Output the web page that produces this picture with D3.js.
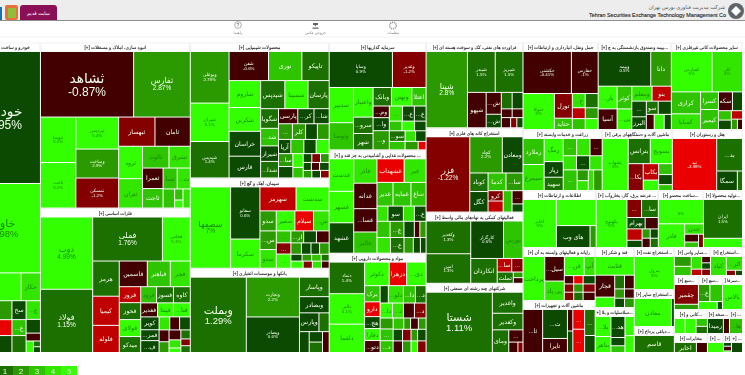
<!DOCTYPE html>
<html>
<head>
<meta charset="utf-8">
<script src="https://cdn.jsdelivr.net/npm/d3@7"></script>
<style>
  html, body { margin: 0; background: #fff; overflow: hidden; }
  svg { display: block; filter: blur(0.35px); }
  text { font-family: "Liberation Sans", "DejaVu Sans", sans-serif; }
</style>
</head>
<body>
<div id="chart"></div>
<script>
// sector titles, and how much of the map each one takes (header strip included)
const sectorNames = [
  "خودرو و ساخت قطعات", "انبوه سازی، املاک و مستغلات", "فلزات اساسی",
  "محصولات شیمیایی", "سیمان، آهک و گچ", "بانکها و موسسات اعتباری",
  "سرمایه گذاریها", "... محصولات غذایی و آشامیدنی به جز قند و", "مواد و محصولات دارویی",
  "فراورده های نفتی، کک و سوخت هسته ای", "استخراج کانه های فلزی", "فعالیتهای کمکی به نهادهای مالی واسط", "شرکتهای چند رشته ای صنعتی",
  "حمل ونقل، انبارداری و ارتباطات", "...بیمه وصندوق بازنشستگی به ج", "سایر محصولات کانی غیرفلزی",
  "زراعت و خدمات وابسته", "ماشین آلات و دستگاههای برقی", "هتل و رستوران",
  "اطلاعات و ارتباطات", "... عرضه برق، گاز، بخاروآب", "...ساخت محصو", "...تولید محصولا",
  "رایانه و فعالیتهای وابسته به آن", "ماشین آلات و تجهیزات", "قند و شکر", "...سلاسلیات و بلا",
  "...استخراج نفت", "...استخراج سایر", "...دباغی پرداخ",
  "...سایر واس", "...استخراج", "...سع", "...سع", "...سرفا", "...کانی و", "...سخد", "...",
  "مخابرات", "...", "", "..."
];
const sectorValues = [
  21939, 24750, 21600, 18765, 12510, 11676, 10379, 9991, 9603,
  8245, 8148, 6887, 6693, 6525, 6351, 6177, 4819, 4270, 4270,
  4161, 3534, 2565, 2223, 3816, 3744, 2340, 1755, 1680, 1480, 1040,
  1008, 896, 816, 816, 680, 792, 528, 312, 627, 304, 152, 209
];

// cells per sector: ["h"|"v", ...children] or [ticker, market weight, change %]
const khodro = ["v",
  ["خودرو", 9300, 0.95], ["خاور", 6300, 5.98],
  ["h", ["خصیر", 1428, 5], ["حکار", 532, 4.6]],
  ["h",
    ["v", ["...ع", 800, 2.5], ["...خزا", 670, -3.4], ["...ع", 714, 0.6]],
    ["v", ["سخر", 266, 0.5], ["...ع", 224, 3], ["", 238, 1.6]],
    ["v", ["...ع", 266, 4.5], ["", 196, 0.5], ["", 112, -0.5],
      ["h", ["", 84, 5], ["v", ["", 40, 1], ["", 40, 0.5]]]]]
];
const anbooh = ["v",
  ["h", ["ثشاهد", 5800, -0.87], ["ثفارس", 3528, 2.87]],
  ["h",
    ["v", ["ثنوسا", 1530, 5.1], ["ثاخت", 1530, 5.2]],
    ["v", ["ثپردیس", 1300, 5.4], ["وساخت", 1176, 2.9], ["ثمسکن", 1218, -1.2]],
    ["v",
      ["h", ["ثبهساز", 1008, -1.25], ["ثامان", 980, -0.7]],
      ["h",
        ["v", ["ثرود", 736, 5], ["ثتران", 667, 4.2]],
        ["v",
          ["h", ["ثالوند", 546, 3.8], ["ثشرق", 441, 4.8]],
          ["h",
            ["v", ["ثعمرا", 400, -0.6], ["ثاجت", 380, 3]],
            ["v",
              ["h", ["ثساتو", 280, 3.6], ["...ث", 260, 4.5]],
              ["h", ["", 209, 3], ["v", ["", 88, 3.4], ["", 64, 5]], ["", 133, 4.8]]]]]]]]
];
const felezat = ["h",
  ["v", ["ذوب", 3528, 4.99], ["فولاد", 3087, 1.15]],
  ["v",
    ["h", ["فملی", 2870, 1.76], ["فخاس", 1148, 5.1]],
    ["h",
      ["v", ["هرمز", 875, 1.1], ["کیمیا", 725, -2.6], ["فلوله", 675, -2.5]],
      ["v",
        ["h", ["فاسمین", 672, -0.7], ["فباهنر", 552, 3.2], ["فجر", 480, 4.6]],
        ["h",
          ["v", ["فروز", 320, -2.6], ["فخوز", 340, 1.9], ["فولای", 340, 5], ["میدکو", 320, 1.5]],
          ["v",
            ["h", ["فرود", 240, 3.6], ["فسوز", 255, 1], ["کاوه", 255, 1.3]],
            ["h", ["فغدیر", 221, -0.5], ["فپنتا", 208, 5], ["...فنا", 221, 5]],
            ["h",
              ["v", ["کویر", 221, 0.6], ["...فمر", 187, 0.7], ["...ف", 204, 0.6]],
              ["v",
                ["h", ["", 130, 4.8], ["", 120, -0.5], ["", 130, 0.4]],
                ["h",
                  ["v", ["", 110, -0.5], ["", 100, 2.6]],
                  ["v", ["", 110, -0.5], ["", 90, 4.4], ["", 50, 5]],
                  ["v", ["", 80, 1.2], ["", 60, -1.5], ["", 60, 1.5]]]]]]]]]]
];
const shimi = ["h",
  ["v", ["وبوعلی", 1836, 2.78], ["شیران", 1368, 5.1], ["شپدیس", 1296, 1.4]],
  ["v",
    ["h", ["شفن", 1053, -0.6], ["نوری", 891, 3], ["تاپیکو", 729, 1.9]],
    ["h",
      ["v", ["شاروم", 780, 5], ["شکربن", 690, 5], ["خراسان", 720, 0.7], ["فارس", 630, 0.6]],
      ["v",
        ["h", ["شیدپس", 624, 1.4], ["شسینا", 598, 5], ["پارسان", 546, 1.5]],
        ["h",
          ["v", ["شگویا", 323, 1.8], ["...شدو", 289, 3.2], ["شیراز", 255, 0.5], ["...شدا", 272, 1.8]],
          ["v",
            ["h", ["پارسی", 266, -0.6], ["...کرما", 224, 0.7], ["...شار", 210, 0.6]],
            ["h", ["...شن", 200, 2.2], ["کلر", 190, 2.6], ["", 170, 0.5], ["", 170, 2.4]],
            ["h", ["آریا", 160, 0.6], ["", 170, 3], ["", 160, 0.5], ["", 170, 5]],
            ["h",
              ["v", ["...سا", 170, 2.6], ["", 150, 0.5]],
              ["v", ["", 130, 5], ["", 100, 3.6]],
              ["v",
                ["h", ["", 70, 0.5], ["", 70, -1.1], ["", 70, 2.2]],
                ["h", ["", 60, 0.6], ["", 60, -0.6], ["", 70, 0.5]],
                ["h", ["", 60, 2.6], ["", 60, 0.5], ["", 60, -2]]]]]]]]]
];
const siman = ["h",
  ["سصفها", 3002, 7],
  ["v", ["سفانو", 1400, 0.6], ["سکرما", 784, 5.2]],
  ["v",
    ["h", ["سهرمز", 792, -2.5], ["سدشت", 726, 5]],
    ["h", ["سدور", 300, 2.8], ["سفیر", 342, 5], ["سیلام", 342, -3.1], ["...س", 288, 4.8]],
    ["h",
      ["v", ["...سفا", 280, 2.6], ["سدور", 280, 4.8]],
      ["v", ["...س", 160, 3.6], ["...س", 150, -1.5], ["...س", 190, 5]],
      ["v",
        ["h", ["...ارد", 140, 2.8], ["", 140, 0.6], ["", 140, -0.5]],
        ["h", ["", 110, 2.6], ["", 100, 0.5], ["", 90, 0.6], ["", 100, 2.8]],
        ["h", ["", 70, 0.6], ["", 60, 2.4], ["", 60, 3], ["", 50, 1.8]],
        ["h", ["", 80, 5], ["", 60, -1.6], ["", 60, 4.4], ["", 50, -1]]]]]
];
const banks = ["h",
  ["وبملت", 3942, 1.29],
  ["v", ["وتجارت", 1976, 2.2], ["وبصادر", 1768, 0.6]],
  ["v",
    ["وپاسار", 540, 1.3], ["وبصادر", 450, 0.5],
    ["h", ["وپارس", 342, 0.5], ["", 180, 1.3]],
    ["h", ["", 190, 0.5], ["v", ["", 130, 0.5], ["", 130, 1.5]], ["", 130, -0.6]]]
];
const sarmaye = ["v",
  ["h", ["وساپا", 2046, 0.9], ["وغدیر", 1089, -1.2]],
  ["h",
    ["v", ["سدبیر", 770, 5], ["وتوصا", 594, 3.6]],
    ["v", ["واعتبار", 522, 5], ["...سرو", 288, 1.7], ["شهر", 288, 1.6]],
    ["v",
      ["h", ["وبانک", 306, 1.5], ["ونهتن", 340, 5], ["اعتلا", 238, 3]],
      ["h",
        ["v", ["...وم", 170, -0.6], ["...وا", 190, 0.5], ["...و", 280, 2.6]],
        ["v",
          ["h", ["...سو", 180, 4], ["...ع", 160, 0.6], ["...ع", 160, 0.6]],
          ["h", ["...سو", 110, 3.8], ["", 110, 5], ["", 100, 0.6]],
          ["h", ["...سو", 150, 1], ["", 100, 4.2], ["", 100, 0.7]],
          ["h", ["", 120, 3.4], ["", 100, 2.6], ["", 60, -3.2]]]]]]
];
const ghaza = ["h",
  ["v", ["غدشت", 713, 5], ["غشهر", 690, 5], ["غشهد", 667, 0.5]],
  ["v", ["غاذر", 506, 4.2], ["غدانه", 528, -0.6], ["...غسا", 484, -0.5], ["غالبر", 440, 3.6]],
  ["v",
    ["h", ["غشهداب", 572, -3.4], ["غبر", 462, 4.4]],
    ["h", ["غدیر", 340, 3], ["غمایه", 380, 3.2], ["ساغو", 320, 3.4]],
    ["h", ["", 150, 4.8], ["سوبه", 210, 0.7], ["", 150, 4], ["...ع", 160, 0.8]],
    ["h", ["", 190, 3.5], ["...ع", 200, 2.8], ["", 150, 0.5], ["", 80, -0.9], ["", 90, 2.6]],
    ["h", ["", 190, 4.4], ["...ع", 190, 1], ["", 130, 2.4], ["", 100, 0.5], ["", 80, 0.6]]]
];
const daroo = ["h",
  ["v", ["دتماد", 1020, 1.4], ["دالبر", 986, 5.1], ["دلقما", 918, 5.2]],
  ["v",
    ["h", ["دکوثر", 528, 5], ["دزهراوی", 374, -3.3], ["...دی", 418, 5]],
    ["h",
      ["v", ["برکت", 230, 3], ["دارو", 210, -3.7], ["...هج", 170, 0.5], ["دفارا", 170, 5], ["...دتو", 170, -0.7]],
      ["v",
        ["h", ["", 130, 0.7], ["...دلو", 240, 4.6], ["...دا", 190, 3], ["...د", 170, 1.5]],
        ["h", ["...دا", 170, 5], ["...د", 150, 4.8], ["", 150, -1], ["...د", 160, -1.7]],
        ["h",
          ["v", ["...سز", 130, 2.6], ["...سد", 140, 3], ["...د", 140, 3.4]],
          ["v",
            ["h", ["...ل", 110, 3.6], ["", 70, 2.6], ["", 80, -0.8], ["", 80, 2.6]],
            ["h", ["", 100, 0.5], ["", 90, -1.7], ["", 70, 2.8], ["", 90, 0.6]],
            ["h", ["", 100, -0.8], ["", 90, 2.4], ["", 70, 5], ["", 90, -1.8]]]]]]]
];
const naftfar = ["h",
  ["شپنا", 3000, 2.8],
  ["v",
    ["h", ["شبندر", 1080, 1.5], ["شبریز", 1080, 1.5]],
    ["h",
      ["شپهون", 630, -0.5],
      ["v", ["...شپا", 315, -0.5], ["...شطا", 195, 0.5]],
      ["v",
        ["h", ["", 170, 1.7], ["", 170, 0.6]],
        ["h", ["", 90, -0.5], ["", 90, -0.5]],
        ["h", ["", 90, -0.5], ["", 60, -1.5], ["", 60, 0.6]]]]]
];
const kane = ["h",
  ["فزر", 2952, -1.22],
  ["v",
    ["h", ["کچاد", 1056, 2.2], ["ومعادن", 672, 0.5]],
    ["h",
      ["v", ["کوباد", 304, 1.4], ["کگل", 336, 0.6]],
      ["v",
        ["h", ["کدما", 285, 3.2], ["...سا", 270, 2.6]],
        ["h",
          ["v", ["کروی", 140, -1.3], ["", 150, -3]],
          ["", 170, 3],
          ["v", ["...سا", 130, -1], ["", 80, 0.8]]]]]]
];
const komaki = ["h",
  ["v", ["وکغدیر", 1333, 1.3], ["امین", 1204, 1.3]],
  ["v",
    ["h", ["کارگزار", 1120, 0.6], ["بورس", 665, 3.6]],
    ["h",
      ["انکاردان", 600, 1.4],
      ["v",
        ["h", ["...سانو", 180, -2.6], ["...سا", 140, -2]],
        ["h", ["تملت", 165, 1.5], ["v", ["", 50, 2], ["", 50, -0.6]]]]]]
];
const chandreshte = ["h",
  ["شستا", 3770, 1.11],
  ["v",
    ["واغدیر", 608, 1.4], ["وکغدیر", 480, 1.3],
    ["h",
      ["ومایک", 352, 1.5],
      ["v", ["...سوا", 165, -0.8], ["h", ["", 90, -1], ["", 50, -1.2]]]]]
];
const haml = ["v",
  ["h", ["حکشتی", 1880, -0.41], ["حفارس", 1040, -1]],
  ["h",
    ["حتوکا", 1044, 5],
    ["v", ["تورل", 408, -1.2], ["حتاید", 187, 3]],
    ["v",
      ["h", ["...ح", 170, 4.8], ["", 170, 1.9]],
      ["h", ["...ح", 130, -2.2], ["", 130, 2.4]],
      ["h", ["...حم", 130, 3.4], ["", 130, 5]]]]
];
const bime = ["v",
  ["h", ["وبیمه", 1683, 0.5], ["دانا", 660, 2.6]],
  ["h",
    ["v", ["...بار", 396, 5], ["آسیا", 360, -1]],
    ["v", ["کوثر", 308, 3.4], ["...بیما", 280, 5]],
    ["v",
      ["h", ["ومعلم", 280, 4.8], ["بنو", 266, -2.8]],
      ["h",
        ["v", ["...س", 210, 0.6], ["البرز", 170, 0.5]],
        ["v",
          ["h", ["سود", 145, 1.5], ["", 160, 0.5]],
          ["h", ["", 110, -0.6], ["", 140, 5], ["", 100, 0.6]]]]]]
];
const kani = ["v",
  ["h", ["کفپارس", 1560, 5], ["کلر", 1170, 4]],
  ["h",
    ["v", ["کراری", 609, 3.4], ["کسابا", 435, 4.8]],
    ["v", ["کسرا", 300, 3.2], ["کیمیر", 340, 3.4]],
    ["v",
      ["h", ["سکه", 250, -0.6], ["", 180, 0.5]],
      ["h",
        ["v", ["", 115, 3.6], ["", 115, 0.6]],
        ["v", ["", 90, -2.6], ["h", ["", 60, 2.5], ["", 50, -0.8]]]]]]
];
const zeraat = ["h",
  ["v", ["زملارد", 500, 3.4], ["سیمرغ", 500, 4.6]],
  ["v", ["زمگسا", 400, 5], ["زپارس", 270, 0.5], ["سهید", 230, 1.5]],
  ["v",
    ["h", ["...سز", 210, 3], ["", 210, 4], ["...سز", 190, -0.7]],
    ["h", ["", 170, 4], ["...سوز", 170, 0.6], ["", 160, 4.5]],
    ["h", ["...سز", 260, 3.4], ["v", ["", 110, 2.8], ["", 100, 4.5]], ["", 100, 4.5], ["", 160, 2.5]]]
];
const barghi = ["h",
  ["بشهاب", 1176, 5],
  ["v",
    ["h", ["بترانس", 483, 1.6], ["بسویچ", 483, 5]],
    ["h",
      ["...بکا", 350, -1.4],
      ["v", ["بکاب", 220, -2.4], ["", 140, 5]],
      ["v", ["", 130, 3], ["", 120, 0.6], ["", 70, 3]]]]
];
const hotel = ["h",
  ["تبد", 2058, -3.98],
  ["v", ["...بد", 750, 1.1], ["h", ["سمگا", 360, 0.7], ["", 90, 1]]]
];
const ettelaat = ["h",
  ["اخابر", 1504, 5],
  ["v", ["", 975, 5], ["h", ["های وب", 693, 0.5], ["", 126, 2.4]]]
];
const bargh = ["h",
  ["بکهنوج", 1410, 5],
  ["v",
    ["h", ["...سنا", 252, -1.1], ["...سا", 288, 1.7]],
    ["h", ["بهرام", 198, 0.6], ["", 143, -0.5]],
    ["h",
      ["v", ["", 165, -2.5], ["", 105, 0.7]],
      ["v", ["", 72, 2], ["", 72, -1]],
      ["v", ["", 72, 0.6], ["", 72, 1.6]]]]
];
const sakht = ["v",
  ["", 1012, 5],
  ["h",
    ["فاذر", 576, 5],
    ["v", ["چدن", 180, 4.6], ["h", ["v", ["", 100, -0.5], ["", 70, 3]], ["", 60, -1.2]]]]
];
const tolid = ["v", ["ایران", 1482, 1.5], ["", 351, 5]];
const rayane = ["h",
  ["پرداخت", 860, 5],
  ["v", ["...سیلیک", 432, -0.6], ["پی پاد", 342, 4.2]],
  ["v",
    ["h", ["...فن", 340, 5], ["آپ", 190, 4]],
    ["h", ["", 70, -0.7], ["", 70, -3.2], ["", 90, 0.6]],
    ["h", ["", 70, -1.2], ["", 70, 2.6], ["", 90, -1.4]],
    ["h", ["...ا", 70, -1.1], ["", 70, 1.6], ["", 90, -0.6]]]
];
const tajhizat = ["h",
  ["...ثا", 800, -0.6],
  ["v", ["...ت", 680, 0.5], ["تایرا", 330, -0.5]],
  ["h",
    ["v", ["", 110, -0.9], ["", 110, 0.5]],
    ["v", ["...سا", 220, -3.4], ["...سا", 260, -3.6]],
    ["v", ["...سا", 260, 1.3], ["", 170, 0.8]]]
];
const ghand = ["v",
  ["قثابت", 684, 5],
  ["h",
    ["v", ["قچار", 400, -0.6], ["", 190, 5]],
    ["v",
      ["h", ["", 125, 1.6], ["", 125, -0.6]],
      ["h", ["", 85, 2.6], ["", 85, -0.7]],
      ["h", ["", 85, 0.6], ["", 85, 2.2]]]]
];
const sasli = ["h",
  ["v", ["...بلا", 300, 5], ["بناهر", 240, 5]],
  ["v", ["...هد", 280, 0.5], ["", 110, 0.5], ["", 90, 3]],
  ["v", ["", 170, 5], ["", 150, 5]]
];
const naft = ["v", ["پترول", 1248, 5]];
const sayerEstekhraj = ["h", ["معادن", 1000, 5], ["", 80, 0.7]];
const dabaghi = ["v", ["قاسم", 600, 1.4]];
const sayerVas = ["h",
  ["v", ["", 150, 2.6], ["", 140, 3.2]],
  ["v", ["...سو", 120, 4.6], ["", 60, -2.8]],
  ["v", ["", 50, -0.7], ["", 50, 0.6], ["", 50, -1.3]]
];
const estekhraj = ["h",
  ["کیاد", 285, 4.5],
  ["v", ["...الزو", 210, 4.6], ["h", ["", 45, -1.1], ["", 35, 0.6]]]
];
const seA = ["v", ["چقمیر", 414, -1.25], ["", 110, 2.6]];
const seB = ["v",
  ["h", ["...ع", 165, 2.6], ["", 180, 3]],
  ["h", ["", 125, 5], ["", 35, 0.6]]
];
const sarfa = ["v", ["بالاس", 460, 5]];
const kaniVa = ["h",
  ["", 160, 5], ["", 160, 5],
  ["v", ["", 88, 3], ["", 80, 1.6]]
];
const sakhd = ["h", ["رمیدا", 210, 0.6], ["", 80, -1]];
const sakhdB = ["v", ["...هایا", 150, 3.5]];
const mokhaberat = ["h", ["اخابر", 220, 1.3], ["", 110, -0.6]];
const tahA = ["v", ["", 130, 5]];
const tahB = ["v", ["", 28, 0.1], ["", 35, -1], ["", 12, 5]];
const tahC = ["v", ["...سز", 60, 0.6]];

const sectorCells = [
  khodro, anbooh, felezat, shimi, siman, banks, sarmaye, ghaza, daroo,
  naftfar, kane, komaki, chandreshte, haml, bime, kani, zeraat, barghi, hotel,
  ettelaat, bargh, sakht, tolid, rayane, tajhizat, ghand, sasli, naft, sayerEstekhraj, dabaghi,
  sayerVas, estekhraj, seA, seB, sarfa, kaniVa, sakhd, sakhdB, mokhaberat, tahA, tahB, tahC
];

// how sectors nest on the map, numbers point into the arrays above
const mapTree = ["h", 0, ["v", 1, 2], ["v", 3, 4, 5], ["v", 6, 7, 8], ["v", 9, 10, 11, 12],
  ["v",
    ["h", 13, 14, 15],
    ["h", 16, 17, 18],
    ["h", 19, 20, 21, 22],
    ["h", ["v", 23, 24], ["v", 25, 26], ["v", 27, 28, 29],
      ["v", ["h", 30, 31], ["h", 32, 33, 34], ["h", 35, 36, 37], ["h", 38, 39, 40, 41]]]]
];

const legendSteps = [1, 2, 3, 4, 5];
const bigLabels = ["خودرو", "ثشاهد", "وبملت", "شستا"];
const navItems = [["راهنما", "help"], ["خروجی عکس", "save"], ["تنظیمات", "gear"]];

const width = 745, height = 375;
// the site colours by whole-percent bands
const color = d3.scaleThreshold()
  .domain([-3, -2, -1, 0, 1, 2, 3, 4, 4.95])
  .range(["#ea0000", "#c00000", "#840000", "#420000", "#0b4a00", "#1c7000", "#2a9a00", "#2ec400", "#33e600", "#33ff00"]);

const svg = d3.select("#chart").append("svg")
  .attr("width", width).attr("height", height);

function isGroup(d) { return d[0] === "h" || d[0] === "v"; }
function toNode(d) {
  if (typeof d === "number") return Object.assign({ sector: d }, toNode(sectorCells[d]));
  if (isGroup(d)) return { dir: d[0], children: d.slice(1).map(toNode) };
  return { label: d[0], size: d[1], chg: d[2] };
}

const root = d3.hierarchy(toNode(mapTree)).sum(d => d.size || 0);
// sector totals win over the sum of the rough cell readings
root.descendants().filter(n => n.data.sector !== undefined).forEach(n => {
  const k = sectorValues[n.data.sector] / n.value;
  n.each(c => { c.value *= k; });
});
root.eachAfter(n => { if (n.children) n.value = d3.sum(n.children, c => c.value); });

d3.treemap()
  .tile((node, x0, y0, x1, y1) =>
    (node.data.dir === "h" ? d3.treemapDice : d3.treemapSlice)(node, x0, y0, x1, y1))
  .size([772, 309])
  .paddingInner(1)
  .paddingTop(n => (n.data.sector !== undefined ? 9 : 0))(root);

const map = svg.append("g").attr("transform", "translate(-30,43)");

// drop trailing letters until a text fits its cell
function fitWidth(sel) {
  sel.each(function (d) {
    const room = d.x1 - d.x0 - 1;
    let s = this.textContent;
    while (s.length && this.getComputedTextLength() > room) {
      s = s.slice(0, -1);
      this.textContent = s;
    }
  });
}

// sector header strips
const heads = map.selectAll("g.head")
  .data(root.descendants().filter(n => n.data.sector !== undefined))
  .join("g").attr("class", "head");
heads.append("rect")
  .attr("x", d => d.x0).attr("y", d => d.y0)
  .attr("width", d => d.x1 - d.x0).attr("height", 9)
  .attr("fill", "#fff").attr("stroke", "#e2e2e2").attr("stroke-width", 0.5);
heads.append("text")
  .attr("x", d => (d.x0 + d.x1) / 2).attr("y", d => d.y0 + 6.4)
  .attr("text-anchor", "middle").attr("direction", "rtl")
  .attr("font-size", 4.5).attr("fill", "#222").attr("stroke", "#222").attr("stroke-width", 0.1)
  .text(d => { const s = sectorNames[d.data.sector]; return s ? s + " [+]" : "[+]"; })
  .call(fitWidth);

// cells
const cells = map.selectAll("g.cell").data(root.leaves()).join("g").attr("class", "cell");
cells.append("rect")
  .attr("x", d => d.x0).attr("y", d => d.y0)
  .attr("width", d => Math.max(0, d.x1 - d.x0)).attr("height", d => Math.max(0, d.y1 - d.y0))
  .attr("fill", d => color(d.data.chg));

const area = d => (d.x1 - d.x0) * (d.y1 - d.y0);
const inkColor = d => (d.data.chg >= 3.5 ? "#178a00" : "#f4fff0");
function pctSize(d) {
  const a = area(d);
  if (bigLabels.includes(d.data.label)) return a >= 5000 ? 12 : 9.5;
  if (a >= 5000) return 9.5;
  if (a >= 2800) return 6.5;
  if (a >= 1000) return 4.4;
  return 0;
}
function nameSize(d) {
  const p = pctSize(d);
  if (p >= 9) return p * 1.15;
  if (p === 6.5) return 8;
  if (p > 0) return 4.6;
  return 6.2;
}
const showsPct = d => pctSize(d) > 0;

cells.append("text")
  .attr("x", d => (d.x0 + d.x1) / 2)
  .attr("y", d => (d.y0 + d.y1) / 2 + (showsPct(d) ? -1 : nameSize(d) * 0.35))
  .attr("text-anchor", "middle")
  .attr("font-size", nameSize)
  .attr("fill", inkColor)
  .text(d => (area(d) >= 120 ? d.data.label : ""))
  .filter(d => d.x0 >= 0).call(fitWidth);
cells.filter(showsPct).append("text")
  .attr("x", d => (d.x0 + d.x1) / 2)
  .attr("y", d => (d.y0 + d.y1) / 2 - 1 + pctSize(d) * 1.05)
  .attr("text-anchor", "middle")
  .attr("font-size", pctSize)
  .attr("fill", inkColor)
  .text(d => d.data.chg + "%");

// top band
svg.append("rect").attr("width", width).attr("height", 20).attr("fill", "#ededed");
svg.append("rect").attr("y", 20).attr("width", width).attr("height", 1).attr("fill", "#8e8e8e");
svg.append("rect").attr("y", 36).attr("width", width).attr("height", 2).attr("fill", "#f7f9fb");
svg.append("rect").attr("x", -3).attr("y", 7).attr("width", 5).attr("height", 13).attr("fill", "#1c6fb0");
svg.append("rect").attr("x", 5).attr("y", 5).attr("width", 13).attr("height", 15).attr("rx", 2).attr("fill", "#e8703a");
svg.append("rect").attr("x", 8).attr("y", 8).attr("width", 8).attr("height", 10).attr("fill", "#8fbf3a");
svg.append("path").attr("d", "M20 20V8Q20 5 23 5H54Q57 5 57 8V20Z").attr("fill", "#8a0f55");
svg.append("text").attr("x", 38.5).attr("y", 15).attr("text-anchor", "middle")
  .attr("font-size", 5).attr("fill", "#fff").text("سایت قدیم");

svg.append("text").attr("x", 725).attr("y", 9).attr("text-anchor", "end")
  .attr("font-size", 5.2).attr("fill", "#555").text("شرکت مدیریت فناوری بورس تهران");
svg.append("text").attr("x", 726).attr("y", 16.5).attr("text-anchor", "end")
  .attr("font-size", 5.8).attr("textLength", 137).attr("lengthAdjust", "spacingAndGlyphs")
  .attr("fill", "#222").attr("stroke", "#222").attr("stroke-width", 0.12)
  .text("Tehran Securities Exchange Technology Management Co");
svg.append("circle").attr("cx", 736).attr("cy", 11).attr("r", 8).attr("fill", "#5f6468");
svg.append("path").attr("d", "M736 6L741 11L736 16L731 11Z").attr("fill", "#fff");

// nav icons
const navX = d3.scalePoint().domain(navItems.map(d => d[0])).range([238, 393]);
const nav = svg.selectAll("g.nav").data(navItems).join("g").attr("class", "nav")
  .attr("transform", d => `translate(${navX(d[0])},0)`);
nav.append("text").attr("y", 34).attr("text-anchor", "middle")
  .attr("font-size", 3.6).attr("fill", "#777").text(d => d[0]);
nav.filter(d => d[1] === "help").append("circle").attr("cy", 25).attr("r", 3.4)
  .attr("fill", "#fff").attr("stroke", "#777").attr("stroke-width", 0.6);
nav.filter(d => d[1] === "help").append("text").attr("y", 27).attr("text-anchor", "middle")
  .attr("font-size", 5).attr("fill", "#555").text("?");
nav.filter(d => d[1] === "save").append("path").attr("d", "M-2.5 23h5v2h-1.5l-1 1.6-1-1.6h-1.5zM-3 27.5h6v1.3h-6z").attr("fill", "#666");
nav.filter(d => d[1] === "gear").append("circle").attr("cy", 25.5).attr("r", 3.3)
  .attr("fill", "#fff").attr("stroke", "#999").attr("stroke-width", 1.6).attr("stroke-dasharray", "1.2 0.8");

// legend
const legendX = d3.scaleBand().domain(legendSteps).range([-3, 77]);
const legend = svg.selectAll("g.legend").data(legendSteps).join("g").attr("class", "legend");
legend.append("rect")
  .attr("x", d => legendX(d)).attr("y", 366)
  .attr("width", legendX.bandwidth()).attr("height", 9)
  .attr("fill", d => color(d));
legend.append("text")
  .attr("x", d => legendX(d) + legendX.bandwidth() / 2).attr("y", 374)
  .attr("text-anchor", "middle").attr("font-size", 8).attr("fill", "#e8ffe0").text(d => d);
</script>
</body>
</html>
